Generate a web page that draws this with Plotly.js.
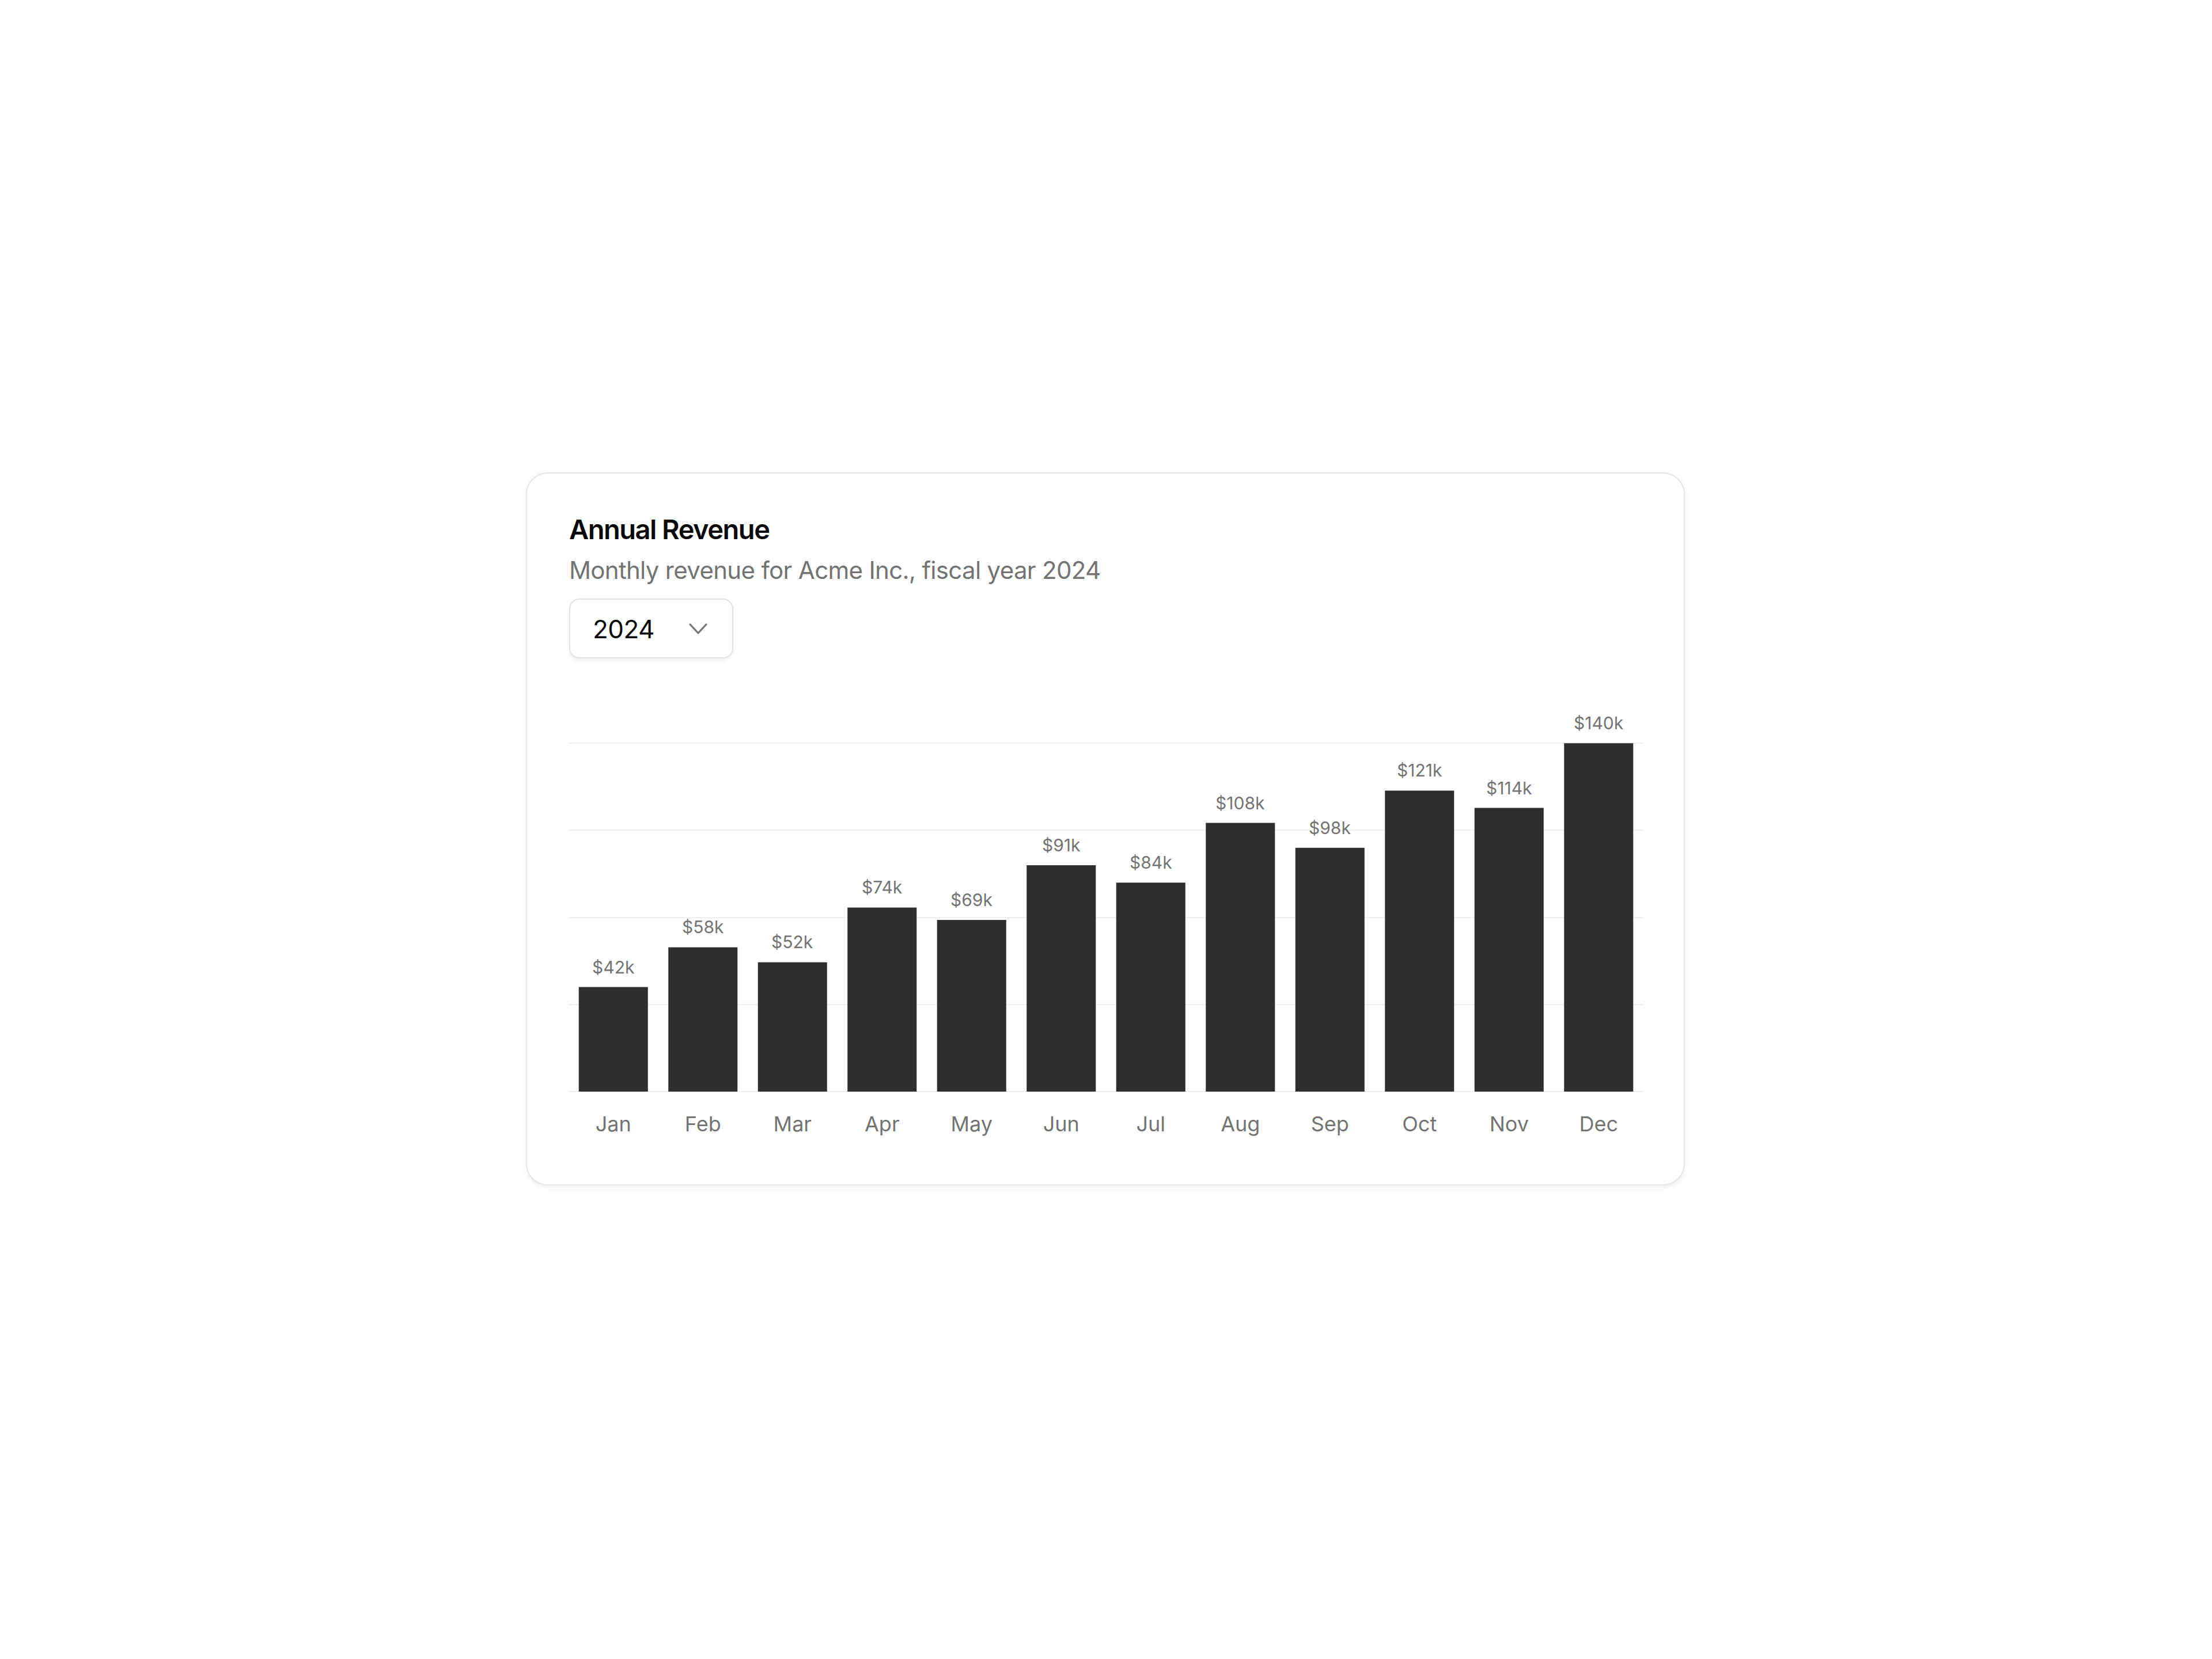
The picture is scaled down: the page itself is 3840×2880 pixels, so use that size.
<!DOCTYPE html>
<html>
<head>
<meta charset="utf-8">
<script src="https://cdn.plot.ly/plotly-3.0.1.min.js"></script>
<style>
  html, body { margin: 0; padding: 0; background: #ffffff; }
  body { width: 3840px; height: 2880px; position: relative; overflow: hidden; font-family: Inter, "Noto Sans", sans-serif; }
  .card { position: absolute; left: 913px; top: 820px; width: 2012px; height: 1238px; box-sizing: border-box;
          border: 2.5px solid #e5e5e5; border-radius: 38px; background: #fff; box-shadow: 0 3px 9px rgba(0,0,0,0.07); }
  .title { position: absolute; left: 988px; top: 894.6px; font-size: 47px; line-height: 47px; font-weight: 600; color: #0a0a0a; white-space: nowrap; letter-spacing: -1.5px; }
  .subtitle { position: absolute; left: 988px; top: 968.7px; font-size: 42px; line-height: 42px; font-weight: 400; color: #737373; white-space: nowrap; letter-spacing: -0.68px; }
  .select { position: absolute; left: 988px; top: 1039px; width: 285px; height: 104px; box-sizing: border-box;
            border: 2.5px solid #e3e3e3; border-radius: 18px; background: #fff; box-shadow: 0 3px 5px rgba(0,0,0,0.07); }
  .select-text { position: absolute; left: 1029px; top: 1070.3px; font-size: 44px; line-height: 44px; color: #0a0a0a; white-space: nowrap; letter-spacing: -0.6px; }
  .chev { position: absolute; left: 1190px; top: 1076px; }
  #chart { position: absolute; left: 913px; top: 1180px; width: 2012px; height: 850px; }
</style>
</head>
<body>
<div class="card"></div>
<div class="title">Annual Revenue</div>
<div class="subtitle">Monthly revenue for Acme Inc., fiscal year 2024</div>
<div class="select"></div>
<div class="select-text">2024</div>
<svg class="chev" width="44" height="32" viewBox="0 0 44 32">
  <polyline points="8,8 22,23 36,8" fill="none" stroke="#737373" stroke-width="3.2" stroke-linecap="round" stroke-linejoin="round"/>
</svg>
<div id="chart"></div>
<script>
const months = ["Jan","Feb","Mar","Apr","May","Jun","Jul","Aug","Sep","Oct","Nov","Dec"];
const revenueK = [42, 58, 52, 74, 69, 91, 84, 108, 98, 121, 114, 140];
const revenue = revenueK.map(v => v * 1000);
const valueLabels = revenueK.map(v => "$" + v + "k");
const yTicks = [0, 35000, 70000, 105000, 140000];

const trace = {
  type: "bar",
  x: months,
  y: revenue,
  marker: { color: "#2e2e2e", line: { width: 0 } },
  hoverinfo: "skip",
  cliponaxis: false
};

const annotations = months.map((m, i) => ({
  x: m, y: revenue[i], xref: "x", yref: "y",
  text: valueLabels[i], showarrow: false,
  yanchor: "bottom", yshift: 15,
  font: { family: "Inter, sans-serif", size: 30, color: "#737373" }
}));

const layout = {
  width: 2012, height: 850,
  margin: { l: 74, r: 72, t: 106, b: 135, pad: 0 },
  paper_bgcolor: "rgba(0,0,0,0)",
  plot_bgcolor: "rgba(0,0,0,0)",
  showlegend: false,
  bargap: 0.228,
  font: { family: "Inter, sans-serif", color: "#737373" },
  xaxis: {
    type: "category",
    showgrid: false, zeroline: false, showline: false,
    ticks: "", tickfont: { family: "Inter, sans-serif", size: 36, color: "#737373" },
    ticklabelstandoff: 32,
    fixedrange: true
  },
  yaxis: {
    range: [0, 141000],
    tickvals: yTicks,
    showticklabels: false,
    showgrid: true, gridcolor: "#f0f0f0", gridwidth: 2,
    zeroline: true, zerolinecolor: "#f0f0f0", zerolinewidth: 2,
    showline: false, ticks: "",
    fixedrange: true
  },
  annotations: annotations
};

Plotly.newPlot("chart", [trace], layout, { displayModeBar: false, staticPlot: true });
</script>
</body>
</html>
